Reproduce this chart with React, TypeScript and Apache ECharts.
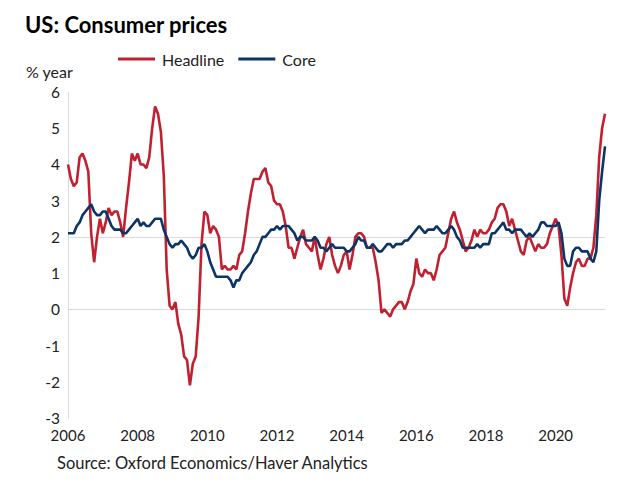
import React, { useEffect, useRef } from "react";
import * as echarts from "echarts";

const startYear = 2006;
const headline: number[] = [
  // 2006
  4.0, 3.6, 3.4, 3.5, 4.2, 4.3, 4.1, 3.8, 2.1, 1.3, 2.0, 2.5,
  // 2007
  2.1, 2.4, 2.8, 2.6, 2.7, 2.7, 2.4, 2.0, 2.8, 3.5, 4.3, 4.1,
  // 2008
  4.3, 4.0, 4.0, 3.9, 4.2, 5.0, 5.6, 5.4, 4.9, 3.7, 1.1, 0.1,
  // 2009
  0.0, 0.2, -0.4, -0.7, -1.3, -1.4, -2.1, -1.5, -1.3, -0.2, 1.8, 2.7,
  // 2010
  2.6, 2.1, 2.3, 2.2, 2.0, 1.1, 1.2, 1.1, 1.1, 1.2, 1.1, 1.5,
  // 2011
  1.6, 2.1, 2.7, 3.2, 3.6, 3.6, 3.6, 3.8, 3.9, 3.5, 3.4, 3.0,
  // 2012
  2.9, 2.9, 2.7, 2.3, 1.7, 1.7, 1.4, 1.7, 2.0, 2.2, 1.8, 1.7,
  // 2013
  1.6, 2.0, 1.5, 1.1, 1.4, 1.8, 2.0, 1.5, 1.2, 1.0, 1.2, 1.5,
  // 2014
  1.6, 1.1, 1.5, 2.0, 2.1, 2.1, 2.0, 1.7, 1.7, 1.7, 1.3, 0.8,
  // 2015
  -0.1, 0.0, -0.1, -0.2, 0.0, 0.1, 0.2, 0.2, 0.0, 0.2, 0.5, 0.7,
  // 2016
  1.4, 1.0, 0.9, 1.1, 1.0, 1.0, 0.8, 1.1, 1.5, 1.6, 1.7, 2.1,
  // 2017
  2.5, 2.7, 2.4, 2.2, 1.9, 1.6, 1.7, 1.9, 2.2, 2.0, 2.2, 2.1,
  // 2018
  2.1, 2.2, 2.4, 2.5, 2.8, 2.9, 2.9, 2.7, 2.3, 2.5, 2.2, 1.9,
  // 2019
  1.6, 1.5, 1.9, 2.0, 1.8, 1.6, 1.8, 1.7, 1.7, 1.8, 2.1, 2.3,
  // 2020
  2.5, 2.3, 1.5, 0.3, 0.1, 0.6, 1.0, 1.3, 1.4, 1.2, 1.2, 1.4,
  // 2021
  1.4, 1.7, 2.6, 4.2, 5.0, 5.4,
];
const core: number[] = [
  // 2006
  2.1, 2.1, 2.1, 2.3, 2.4, 2.6, 2.7, 2.8, 2.9, 2.7, 2.6, 2.6,
  // 2007
  2.7, 2.7, 2.5, 2.3, 2.2, 2.2, 2.2, 2.1, 2.1, 2.2, 2.3, 2.4,
  // 2008
  2.5, 2.3, 2.4, 2.3, 2.3, 2.4, 2.5, 2.5, 2.5, 2.2, 2.0, 1.8,
  // 2009
  1.7, 1.8, 1.8, 1.9, 1.8, 1.7, 1.5, 1.4, 1.5, 1.7, 1.7, 1.8,
  // 2010
  1.6, 1.3, 1.1, 0.9, 0.9, 0.9, 0.9, 0.9, 0.8, 0.6, 0.8, 0.8,
  // 2011
  1.0, 1.1, 1.2, 1.3, 1.5, 1.6, 1.8, 2.0, 2.0, 2.1, 2.2, 2.2,
  // 2012
  2.3, 2.2, 2.3, 2.3, 2.3, 2.2, 2.1, 1.9, 2.0, 2.0, 1.9, 1.9,
  // 2013
  1.9, 2.0, 1.9, 1.7, 1.7, 1.6, 1.7, 1.8, 1.7, 1.7, 1.7, 1.7,
  // 2014
  1.6, 1.6, 1.7, 1.8, 2.0, 1.9, 1.9, 1.7, 1.7, 1.8, 1.7, 1.6,
  // 2015
  1.6, 1.7, 1.8, 1.8, 1.7, 1.8, 1.8, 1.8, 1.9, 1.9, 2.0, 2.1,
  // 2016
  2.2, 2.3, 2.2, 2.1, 2.2, 2.2, 2.2, 2.3, 2.2, 2.1, 2.1, 2.2,
  // 2017
  2.3, 2.2, 2.0, 1.9, 1.7, 1.7, 1.7, 1.7, 1.7, 1.8, 1.7, 1.8,
  // 2018
  1.8, 1.8, 2.1, 2.1, 2.2, 2.3, 2.4, 2.2, 2.2, 2.1, 2.2, 2.2,
  // 2019
  2.2, 2.1, 2.0, 2.1, 2.0, 2.1, 2.2, 2.4, 2.4, 2.3, 2.3, 2.3,
  // 2020
  2.3, 2.4, 2.1, 1.4, 1.2, 1.2, 1.6, 1.7, 1.7, 1.6, 1.6, 1.6,
  // 2021
  1.4, 1.3, 1.6, 3.0, 3.8, 4.5,
];
const yTicks = [-3, -2, -1, 0, 1, 2, 3, 4, 5, 6];
const refLines = [0, 2];

const FONT = "Lato, 'Open Sans', sans-serif";
const RED = "#C0202F";
const NAVY = "#0D3466";

export default function App() {
  const ref = useRef<HTMLDivElement>(null);
  useEffect(() => {
    if (!ref.current) return;
    const chart = echarts.init(ref.current, undefined, { renderer: "svg" });
    const toPts = (arr: number[]) =>
      arr.map((v, i) => [startYear + i / 12, v]);
    const lastX = startYear + (headline.length - 1) / 12;
    chart.setOption({
      animation: false,
      backgroundColor: "#ffffff",
      textStyle: { fontFamily: FONT },
      grid: { left: 68, right: 630 - 605, top: 92, bottom: 491 - 418 },
      legend: {
        top: 46,
        left: 113,
        itemWidth: 37,
        itemHeight: 3,
        itemGap: 14,
        icon: "rect",
        textStyle: { fontSize: 16, color: "#222", fontFamily: FONT, padding: [0, 0, 0, 2] },
        data: ["Headline", "Core"],
      },
      graphic: [
        {
          type: "text",
          left: 25,
          top: 13,
          style: { text: "US: Consumer prices", font: `bold 22px ${FONT}`, fill: "#000" },
        },
        {
          type: "text",
          left: 26,
          top: 63,
          style: { text: "% year", font: `16px ${FONT}`, fill: "#222" },
        },
        {
          type: "text",
          left: 57,
          top: 454,
          style: { text: "Source: Oxford Economics/Haver Analytics", font: `16.5px ${FONT}`, fill: "#222" },
        },
      ],
      xAxis: {
        type: "value",
        min: 2006,
        max: lastX,
        interval: 2,
        axisLine: { show: true, lineStyle: { color: "#d9d9d9", width: 1 } },
        axisTick: { show: false },
        splitLine: { show: false },
        axisLabel: {
          fontSize: 15,
          color: "#222",
          margin: 9,
          showMaxLabel: false,
          formatter: (v: number) => String(Math.round(v)),
        },
      },
      yAxis: {
        type: "value",
        min: yTicks[0],
        max: yTicks[yTicks.length - 1],
        interval: 1,
        axisLine: { show: true, lineStyle: { color: "#d9d9d9", width: 1 } },
        axisTick: { show: false },
        splitLine: { show: false },
        axisLabel: { fontSize: 15.5, color: "#222", margin: 8 },
      },
      series: [
        {
          name: "Headline",
          type: "line",
          data: toPts(headline),
          showSymbol: false,
          symbol: "none",
          color: RED,
          lineStyle: { color: RED, width: 2.6 },
          z: 3,
          markLine: {
            silent: true,
            symbol: "none",
            label: { show: false },
            lineStyle: { color: "#d9d9d9", width: 1, type: "solid" },
            data: refLines.map((y) => ({ yAxis: y })),
            z: 1,
          },
        },
        {
          name: "Core",
          type: "line",
          data: toPts(core),
          showSymbol: false,
          symbol: "none",
          color: NAVY,
          lineStyle: { color: NAVY, width: 2.6 },
          z: 4,
        },
      ],
    });
    return () => chart.dispose();
  }, []);
  return <div ref={ref} style={{ width: 630, height: 491, position: "absolute", left: 0, top: 0 }} />;
}
